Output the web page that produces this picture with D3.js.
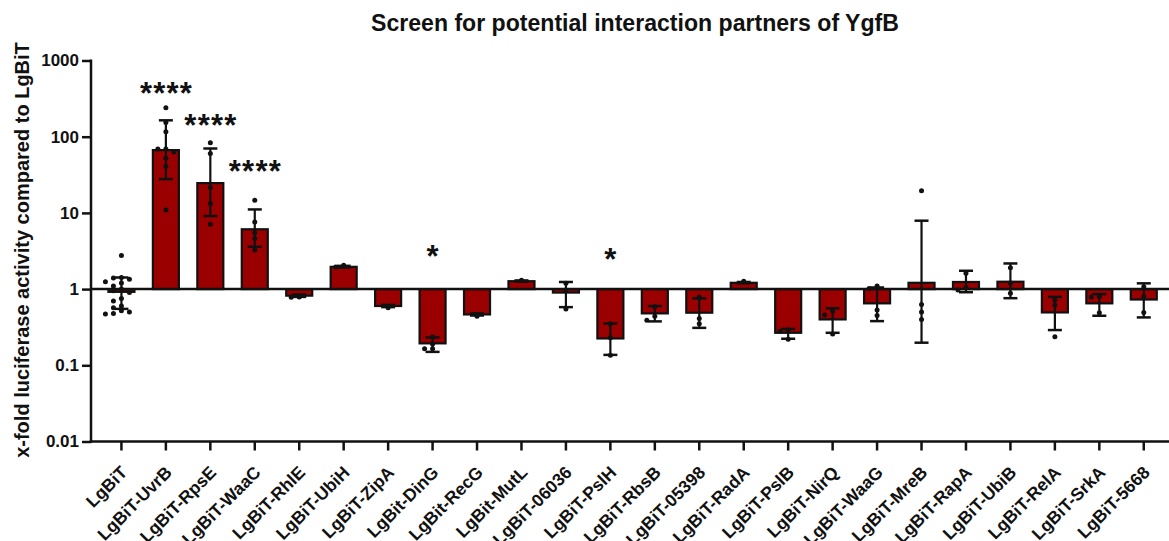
<!DOCTYPE html>
<html>
<head>
<meta charset="utf-8">
<script src="https://cdn.jsdelivr.net/npm/d3@7"></script>
<style>
  html, body { margin: 0; padding: 0; background: #fff; }
  svg { display: block; font-family: "Liberation Sans", Arial, sans-serif; }
</style>
</head>
<body>
<svg id="chart" width="1169" height="541"></svg>
<script>
// Constructs tested in the luciferase complementation screen
const categories = [
  "LgBiT", "LgBiT-UvrB", "LgBiT-RpsE", "LgBiT-WaaC", "LgBiT-RhlE", "LgBiT-UbiH",
  "LgBiT-ZipA", "LgBit-DinG", "LgBit-RecG", "LgBit-MutL", "LgBiT-06036", "LgBiT-PslH",
  "LgBiT-RbsB", "LgBiT-05398", "LgBiT-RadA", "LgBiT-PslB", "LgBiT-NirQ", "LgBiT-WaaG",
  "LgBiT-MreB", "LgBiT-RapA", "LgBiT-UbiB", "LgBiT-RelA", "LgBiT-SrkA", "LgBiT-5668"
];

// Bar height (x-fold activity) per construct
const meanValues = [
  0.92, 66.7, 24.6, 6.1, 0.82, 1.96,
  0.60, 0.194, 0.465, 1.27, 0.90, 0.225,
  0.48, 0.49, 1.21, 0.267, 0.40, 0.65,
  1.21, 1.24, 1.25, 0.494, 0.65, 0.73
];

// Error bar ends
const errLow = [
  0.55, 27.8, 9.1, 3.6, 0.79, 1.92,
  0.58, 0.15, 0.45, 1.25, 0.58, 0.137,
  0.377, 0.31, 1.19, 0.223, 0.267, 0.38,
  0.198, 0.91, 0.76, 0.29, 0.447, 0.425
];
const errHigh = [
  1.42, 164, 70, 11.1, 0.85, 2.02,
  0.62, 0.232, 0.48, 1.30, 1.24, 0.354,
  0.60, 0.755, 1.24, 0.30, 0.56, 1.05,
  7.9, 1.74, 2.17, 0.79, 0.86, 1.19
];

// Individual replicates
const replicates = [
  [2.75, 1.42, 1.40, 1.35, 1.25, 1.2, 1.1, 1.0, 0.95, 0.9, 0.75, 0.7, 0.6, 0.57, 0.52, 0.5, 0.48, 0.47],
  [239, 154, 116, 69, 69, 63, 52, 41, 10.9],
  [83, 60, 21.6, 13.3, 7.1],
  [14.7, 7.6, 5.5, 4.6, 3.25],
  [0.79, 0.78],
  [2.05, 1.95],
  [0.57],
  [0.235, 0.19, 0.165, 0.165],
  [0.44],
  [1.31],
  [1.19, 0.97, 0.55],
  [0.35, 0.23, 0.135],
  [0.585, 0.44, 0.39],
  [0.79, 0.41, 0.35],
  [1.27],
  [0.29, 0.28, 0.22],
  [0.514, 0.456, 0.257],
  [1.1, 1.02, 0.53, 0.45],
  [19.5, 0.63, 0.5, 0.4],
  [1.61, 1.05, 0.97],
  [1.9, 1.2, 0.88],
  [0.717, 0.62, 0.237],
  [0.8, 0.79, 0.49],
  [1.07, 0.8, 0.494]
];

// Significance marks and the level (in fold units) at which they sit
const sigLabels = ["", "****", "****", "****", "", "", "", "*", "", "", "", "*",
                   "", "", "", "", "", "", "", "", "", "", "", ""];
const sigLevels = [null, 452, 174, 43.6, null, null, null, 3.25, null, null, null, 3.0,
                   null, null, null, null, null, null, null, null, null, null, null, null];

const yTickValues = [0.01, 0.1, 1, 10, 100, 1000];
const yTickLabels = ["0.01", "0.1", "1", "10", "100", "1000"];

const titleText = "Screen for potential interaction partners of YgfB";
const yTitleText = "x-fold luciferase activity compared to LgBiT";

const axisX = 91, plotRight = 1169;
const svg = d3.select("#chart");

const y = d3.scaleLog().domain([0.01, 1000]).range([441.5, 60.5]);
const x = d3.scaleBand()
  .domain(categories)
  .range([99.2, 99.2 + categories.length * 44.45])
  .paddingInner(0.415)
  .paddingOuter(0.2075);
const cx = c => x(c) + x.bandwidth() / 2;

// Title
const title = svg.append("text")
  .attr("x", 635).attr("y", 30.5)
  .attr("text-anchor", "middle")
  .attr("font-weight", "bold")
  .attr("font-size", 20)
  .attr("fill", "#111")
  .text(titleText);
{
  const len = title.node().getComputedTextLength();
  title.attr("font-size", 20 * 528 / len);
}

// Y axis title
const yTitle = svg.append("text")
  .attr("transform", "translate(29,250) rotate(-90)")
  .attr("text-anchor", "middle")
  .attr("font-weight", "bold")
  .attr("font-size", 17)
  .attr("fill", "#111")
  .text(yTitleText);
{
  const len = yTitle.node().getComputedTextLength();
  yTitle.attr("font-size", 17 * 416 / len);
}

// Y axis
const yAxis = d3.axisLeft(y)
  .tickValues(yTickValues)
  .tickFormat((d, i) => yTickLabels[i])
  .tickSize(9)
  .tickPadding(3);
const gy = svg.append("g").attr("transform", `translate(${axisX},0)`).call(yAxis);
gy.select(".domain").remove();
gy.selectAll(".tick line").attr("stroke", "#111").attr("stroke-width", 2.5);
gy.selectAll(".tick text")
  .attr("font-size", 17).attr("font-weight", "bold").attr("fill", "#111")
  .attr("font-family", "Liberation Sans, Arial, sans-serif");
svg.append("line")
  .attr("x1", axisX).attr("x2", axisX)
  .attr("y1", y(1000) - 1).attr("y2", y(0.01) + 1.2)
  .attr("stroke", "#111").attr("stroke-width", 2.5);

// X axis with slanted construct names
const xAxis = d3.axisBottom(x).tickSize(9).tickSizeOuter(0);
const gx = svg.append("g").attr("transform", `translate(0,${y(0.01)})`).call(xAxis);
gx.select(".domain").remove();
gx.selectAll(".tick line").attr("stroke", "#111").attr("stroke-width", 2.5);
gx.selectAll(".tick text")
  .attr("font-size", 17.5).attr("font-weight", "bold").attr("fill", "#111")
  .attr("font-family", "Liberation Sans, Arial, sans-serif")
  .attr("text-anchor", "end")
  .attr("x", null).attr("y", null).attr("dy", null)
  .attr("transform", "translate(7,32) rotate(-45)");
svg.append("line")
  .attr("x1", axisX - 1.2).attr("x2", plotRight)
  .attr("y1", y(0.01)).attr("y2", y(0.01))
  .attr("stroke", "#111").attr("stroke-width", 2.5);

// Bars drawn from the 1-fold baseline
const rows = categories.map((c, i) => ({
  c, mean: meanValues[i], lo: errLow[i], hi: errHigh[i],
  pts: replicates[i], sig: sigLabels[i], sigAt: sigLevels[i]
}));

svg.append("g").selectAll("rect")
  .data(rows).join("rect")
  .attr("x", d => x(d.c))
  .attr("width", x.bandwidth())
  .attr("y", d => Math.min(y(d.mean), y(1)))
  .attr("height", d => Math.abs(y(d.mean) - y(1)))
  .attr("fill", "#9a0000")
  .attr("stroke", "#111")
  .attr("stroke-width", 2.2);

// Baseline at 1
svg.append("line")
  .attr("x1", axisX).attr("x2", plotRight)
  .attr("y1", y(1)).attr("y2", y(1))
  .attr("stroke", "#111").attr("stroke-width", 2.5);

// Error bars
const capW = 14;
const eb = svg.append("g").attr("stroke", "#111").attr("stroke-width", 2.2);
rows.forEach(d => {
  const xc = cx(d.c);
  eb.append("line").attr("x1", xc).attr("x2", xc).attr("y1", y(d.lo)).attr("y2", y(d.hi));
  eb.append("line").attr("x1", xc - capW / 2).attr("x2", xc + capW / 2).attr("y1", y(d.lo)).attr("y2", y(d.lo)).attr("stroke-width", 2.5);
  eb.append("line").attr("x1", xc - capW / 2).attr("x2", xc + capW / 2).attr("y1", y(d.hi)).attr("y2", y(d.hi)).attr("stroke-width", 2.5);
});

// Replicate dots, nudged sideways where they would overlap
function dodge(vals) {
  const placed = [];
  const offs = [0, -8, 8, -16, 16, -24, 24];
  return vals.map(v => {
    const py = y(v);
    for (const o of offs) {
      if (!placed.some(p => Math.abs(p.dx - o) < 6 && Math.abs(p.py - py) < 4.6)) {
        placed.push({ dx: o, py });
        return { v, dx: o };
      }
    }
    return { v, dx: 0 };
  });
}
const dots = svg.append("g").attr("fill", "#111");
rows.forEach(d => {
  dodge(d.pts).forEach(p => {
    dots.append("circle").attr("cx", cx(d.c) + p.dx).attr("cy", y(p.v)).attr("r", 2.5);
  });
});

// Significance asterisks
const starFs = 31, starStep = 13.3;
const stars = svg.append("g")
  .attr("font-size", starFs).attr("font-weight", "bold")
  .attr("fill", "#111").attr("text-anchor", "middle");
rows.filter(d => d.sig).forEach(d => {
  const n = d.sig.length;
  for (let k = 0; k < n; k++) {
    stars.append("text")
      .attr("x", cx(d.c) + (k - (n - 1) / 2) * starStep)
      .attr("y", y(d.sigAt) + 0.56 * starFs)
      .text("*");
  }
});
</script>
</body>
</html>
